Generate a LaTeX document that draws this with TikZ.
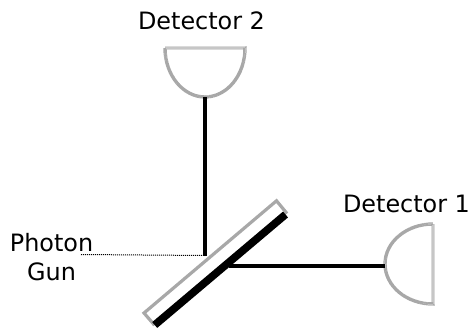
\documentclass[tikz,border=0pt]{standalone}
\usepackage{fontspec}
\setmainfont{DejaVu Sans}
\definecolor{shellgray}{gray}{0.66}
\tikzset{
  x=1pt,y=-1pt,
  label text/.style={font=\fontsize{23.9}{29}\selectfont,inner sep=0pt,align=center,text=black},
  beam/.style={draw=black,line width=3.2pt},
  shell/.style={draw=shellgray,line width=3.4pt,dash pattern=on 0.7pt off 0.3pt,line cap=butt},
  frame/.style={draw=shellgray,line width=3.2pt,line join=miter},
  coating/.style={draw=black,line width=7.7pt},
  guide/.style={draw=black,line width=1pt,dash pattern=on 1pt off 1pt}
}
\begin{document}
\begin{tikzpicture}
\useasboundingbox (0,0) rectangle (470,331);
\node[label text] (d2) at (201.5,21) {Detector 2};
\node[label text] (d1) at (406.5,204) {Detector 1};
\node[label text] (gun) at (51.5,257) {Photon\\Gun};
\coordinate (hit) at (205,255.5);
\coordinate (exit) at (229,266);
\coordinate (d2in) at (205,97);
\coordinate (d1in) at (385,266);
\coordinate (gunend) at (81,254.5);
% mirror
\draw[frame] (144,313) -- (276.5,200.8) -- (286,212.3) -- (153.5,324) -- cycle;
\draw[coating] (154.7,325) -- (285.5,214.5);
% detectors
\draw[shell] (165,48) -- (245,48) arc[start angle=0,end angle=180,x radius=40,y radius=49] -- cycle;
\draw[shell] (433,224) -- (433,304) arc[start angle=90,end angle=270,x radius=48,y radius=40] -- cycle;
% beams
\draw[beam] (d2in) -- (hit);
\draw[beam] (exit) -- (d1in);
\draw[guide] (gunend) -- (hit);
\end{tikzpicture}
\end{document}
